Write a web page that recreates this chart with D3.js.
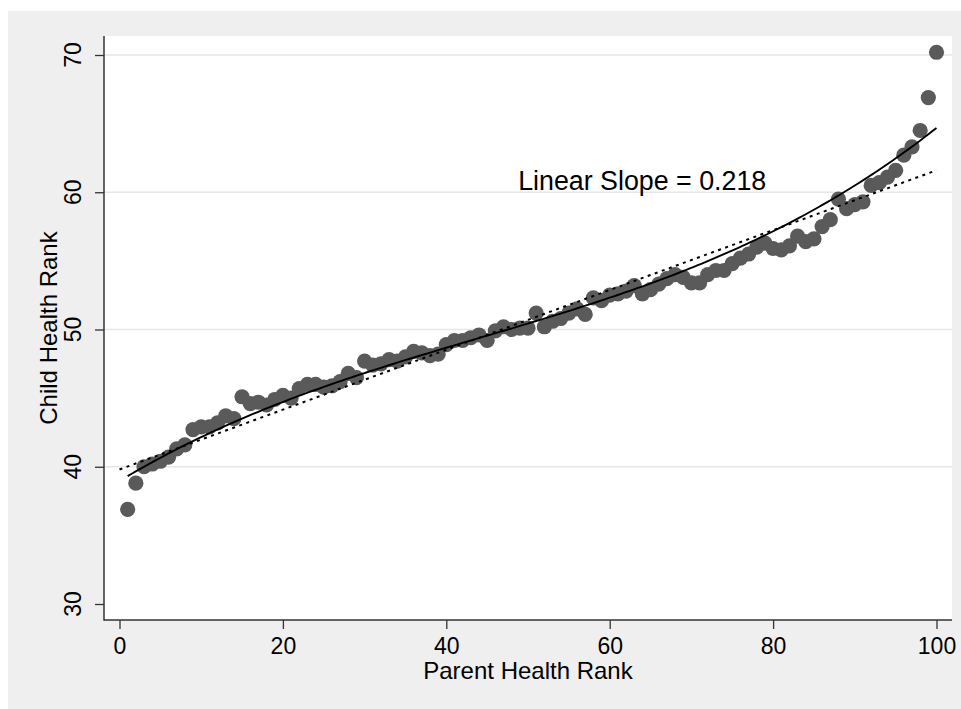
<!DOCTYPE html>
<html>
<head>
<meta charset="utf-8">
<script src="https://cdn.jsdelivr.net/npm/d3@7"></script>
<style>
  html, body { margin: 0; padding: 0; background: #ffffff; }
  svg { display: block; font-family: "Liberation Sans", Arial, Helvetica, sans-serif; }
</style>
</head>
<body>
<svg id="chart" width="961" height="709"></svg>
<script>
// ---- data ----
const parentRank = d3.range(1, 101);
const childRank = [
  36.9, 38.8, 40.0, 40.2, 40.4, 40.7, 41.3, 41.6, 42.7, 42.9,
  42.9, 43.2, 43.7, 43.5, 45.1, 44.6, 44.7, 44.5, 44.9, 45.2,
  45.0, 45.7, 46.0, 46.0, 45.8, 45.9, 46.2, 46.8, 46.5, 47.7,
  47.4, 47.5, 47.8, 47.7, 48.0, 48.4, 48.3, 48.1, 48.2, 48.9,
  49.2, 49.2, 49.4, 49.6, 49.2, 49.9, 50.2, 50.0, 50.1, 50.1,
  51.2, 50.2, 50.6, 50.8, 51.2, 51.5, 51.1, 52.3, 52.1, 52.5,
  52.6, 52.8, 53.2, 52.6, 52.9, 53.3, 53.7, 54.0, 53.8, 53.4,
  53.4, 54.0, 54.3, 54.3, 54.8, 55.2, 55.5, 56.0, 56.3, 55.9,
  55.8, 56.1, 56.8, 56.4, 56.6, 57.5, 58.0, 59.5, 58.8, 59.1,
  59.3, 60.5, 60.7, 61.1, 61.6, 62.7, 63.3, 64.5, 66.9, 70.2
];
// linear fit line (dotted): endpoints
const linearX = [0, 100];
const linearY = [39.8, 61.6];
// cubic fit curve (solid), positions
const cubicX = [1, 12, 23, 36, 50, 61, 75, 88, 95, 100];
const cubicY = [39.3, 42.8, 45.3, 47.95, 50.4, 52.6, 55.85, 59.6, 62.4, 64.8];

const xTicks = [0, 20, 40, 60, 80, 100];
const yTicks = [30, 40, 50, 60, 70];
const gridTicks = [40, 50, 60, 70];
const slopeLabel = "Linear Slope = 0.218";
const xTitle = "Parent Health Rank";
const yTitle = "Child Health Rank";

// ---- layout ----
const svg = d3.select("#chart");
const outer = {x0: 8, y0: 11, x1: 961, y1: 709};
const plot = {x0: 104, y0: 36, x1: 952, y1: 620};

const x = d3.scaleLinear().domain([0, 100]).range([119.5, 936.5]);
const y = d3.scaleLinear().domain([30, 70]).range([604, 55]);

svg.append("rect").attr("x", outer.x0).attr("y", outer.y0)
  .attr("width", outer.x1 - outer.x0).attr("height", outer.y1 - outer.y0)
  .attr("fill", "#efefef");
svg.append("rect").attr("x", plot.x0).attr("y", plot.y0)
  .attr("width", plot.x1 - plot.x0).attr("height", plot.y1 - plot.y0)
  .attr("fill", "#ffffff");

// gridlines
svg.append("g").selectAll("line").data(gridTicks).join("line")
  .attr("x1", plot.x0).attr("x2", plot.x1)
  .attr("y1", d => y(d)).attr("y2", d => y(d))
  .attr("stroke", "#e6e6e6").attr("stroke-width", 1.6);

// ---- smooth cubic through the read curve positions (least squares) ----
function polyFit(xs, ys, deg) {
  const n = deg + 1;
  const A = Array.from({length: n}, () => new Array(n + 1).fill(0));
  for (let k = 0; k < xs.length; k++) {
    for (let i = 0; i < n; i++) {
      for (let j = 0; j < n; j++) A[i][j] += Math.pow(xs[k], i + j);
      A[i][n] += ys[k] * Math.pow(xs[k], i);
    }
  }
  for (let c = 0; c < n; c++) {
    let p = c;
    for (let r = c + 1; r < n; r++) if (Math.abs(A[r][c]) > Math.abs(A[p][c])) p = r;
    [A[c], A[p]] = [A[p], A[c]];
    for (let r = 0; r < n; r++) {
      if (r === c) continue;
      const f = A[r][c] / A[c][c];
      for (let j = c; j <= n; j++) A[r][j] -= f * A[c][j];
    }
  }
  return A.map((row, i) => row[n] / A[i][i]);
}
const evalPoly = (co, t) => co.reduce((s, c, i) => s + c * Math.pow(t, i), 0);
const cubCo = polyFit(cubicX, cubicY, 3);

const line = d3.line().x(d => x(d[0])).y(d => y(d[1]));

// points
svg.append("g").selectAll("circle").data(parentRank).join("circle")
  .attr("cx", d => x(d)).attr("cy", (d, i) => y(childRank[i]))
  .attr("r", 7.6).attr("fill", "#5a5a5a");

// linear fit (dotted)
svg.append("path").attr("d", line(linearX.map((t, i) => [t, linearY[i]])))
  .attr("fill", "none").attr("stroke", "#000").attr("stroke-width", 2)
  .attr("stroke-dasharray", "3,4.5");

// cubic fit (solid)
const xMin = d3.min(cubicX), xMax = d3.max(cubicX);
const cubPts = d3.range(0, 201).map(k => {
  const t = xMin + (xMax - xMin) * k / 200;
  return [t, evalPoly(cubCo, t)];
});
svg.append("path").attr("d", line(cubPts))
  .attr("fill", "none").attr("stroke", "#000").attr("stroke-width", 1.9);

// axes
const xAxis = d3.axisBottom(x).tickValues(xTicks).tickSize(9).tickPadding(9).tickSizeOuter(0);
const gx = svg.append("g").attr("transform", `translate(0,${plot.y1})`).call(xAxis);
gx.select(".domain").remove();
gx.selectAll(".tick line").attr("stroke", "#333").attr("stroke-width", 1.3);
gx.selectAll(".tick text").attr("font-size", 23).attr("fill", "#000")
  .attr("font-family", "Liberation Sans, Arial, sans-serif");

const yAxis = d3.axisLeft(y).tickValues(yTicks).tickSize(9).tickFormat("");
const gy = svg.append("g").attr("transform", `translate(${plot.x0},0)`).call(yAxis);
gy.select(".domain").remove();
gy.selectAll(".tick line").attr("stroke", "#333").attr("stroke-width", 1.3);

svg.append("g").selectAll("text").data(yTicks).join("text")
  .attr("transform", d => `translate(81,${y(d)}) rotate(-90)`)
  .attr("text-anchor", "middle").attr("font-size", 23).attr("fill", "#000")
  .text(d => d);

// frame lines (left & bottom)
svg.append("line").attr("x1", plot.x0).attr("x2", plot.x0)
  .attr("y1", plot.y0).attr("y2", plot.y1 + 0.7)
  .attr("stroke", "#333").attr("stroke-width", 1.5);
svg.append("line").attr("x1", plot.x0).attr("x2", plot.x1)
  .attr("y1", plot.y1).attr("y2", plot.y1)
  .attr("stroke", "#333").attr("stroke-width", 1.5);

// titles
svg.append("text").attr("x", (plot.x0 + plot.x1) / 2).attr("y", 679)
  .attr("text-anchor", "middle").attr("font-size", 24).attr("fill", "#000")
  .text(xTitle);
svg.append("text")
  .attr("transform", `translate(57,${(plot.y0 + plot.y1) / 2}) rotate(-90)`)
  .attr("text-anchor", "middle").attr("font-size", 24).attr("fill", "#000")
  .text(yTitle);

// annotation
svg.append("text").attr("x", x(48.8)).attr("y", y(60.15))
  .attr("font-size", 26.8).attr("fill", "#000")
  .text(slopeLabel);
</script>
</body>
</html>
